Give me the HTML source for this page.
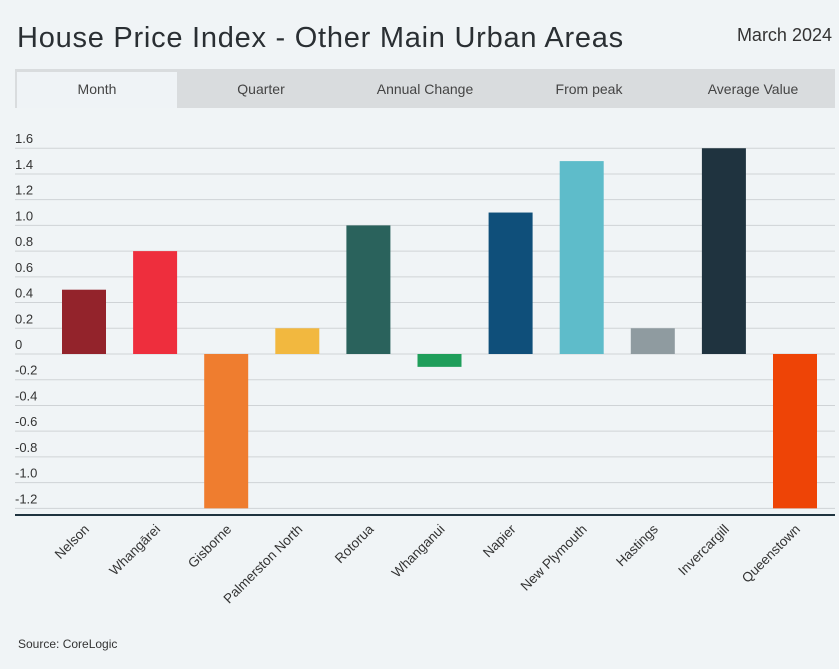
<!DOCTYPE html>
<html><head><meta charset="utf-8"><style>
body{margin:0;background:#f0f4f6;font-family:"Liberation Sans",sans-serif;}
#wrap{position:relative;width:839px;height:669px;overflow:hidden;background:#f0f4f6;}
.title{position:absolute;left:17px;top:22px;font-size:29px;letter-spacing:0.75px;color:#2a2f33;}
.date{position:absolute;right:7px;top:25px;font-size:18px;color:#333;}
.tabs{position:absolute;left:15px;top:69px;width:820px;height:39px;background:#d9dcde;}
.tab{position:absolute;top:0;height:39px;line-height:40px;text-align:center;font-size:14px;color:#444;width:164px;}
.tab.active{background:#eff3f6;top:3px;left:2px;width:160px;height:36px;line-height:34px;}
.src{position:absolute;left:18px;top:637px;font-size:12px;color:#333;}
</style></head><body>
<div id="wrap">
<div class="title">House Price Index - Other Main Urban Areas</div>
<div class="date">March 2024</div>
<div class="tabs">
<div class="tab active">Month</div>
<div class="tab" style="left:164px">Quarter</div>
<div class="tab" style="left:328px">Annual Change</div>
<div class="tab" style="left:492px">From peak</div>
<div class="tab" style="left:656px">Average Value</div>
</div>
<svg id="chart" width="839" height="669" style="position:absolute;left:0;top:0"></svg>
<div class="src">Source: CoreLogic</div>
</div>
<script>
const categories=["Nelson","Whangārei","Gisborne","Palmerston North","Rotorua","Whanganui","Napier","New Plymouth","Hastings","Invercargill","Queenstown"];
const values=[0.5,0.8,-1.2,0.2,1.0,-0.1,1.1,1.5,0.2,1.6,-1.2];
const colors=["#93232b","#ee2e3d","#ef7d2f","#f2b83f","#2a625c","#1f9e5a","#0f4f7a","#5ebcca","#8f9ba0","#1f333f","#ee4406"];
const ticks=[1.6,1.4,1.2,1.0,0.8,0.6,0.4,0.2,0,-0.2,-0.4,-0.6,-0.8,-1.0,-1.2];
const tickLabels=["1.6","1.4","1.2","1.0","0.8","0.6","0.4","0.2","0","-0.2","-0.4","-0.6","-0.8","-1.0","-1.2"];
const NS="http://www.w3.org/2000/svg";
const svg=document.getElementById('chart');
const y0=354,k=128.6,x0=84,step=71.1,bw=44;
const y=v=>y0-v*k;
const x=i=>x0+i*step;
function mk(t,a){const e=document.createElementNS(NS,t);for(const n in a)e.setAttribute(n,a[n]);svg.appendChild(e);return e;}
ticks.forEach((t,i)=>{
 const g=mk('line',{x1:15,x2:835,y1:y(t),y2:y(t),stroke:'#cfd3d6','stroke-width':1});
 
 
 const l=mk('text',{x:15,y:y(t)-5,'font-size':13,fill:'#333','font-family':'Liberation Sans, sans-serif'});
 l.textContent=tickLabels[i];
 
 
});
values.forEach((v,i)=>{
 const r=mk('rect',{x:x(i)-bw/2,y:Math.min(y(v),y(0)),width:bw,height:Math.abs(y(v)-y(0)),fill:colors[i]});
 
 
 const t=mk('text',{x:x(i)+6,y:530,'font-size':13.5,fill:'#333','text-anchor':'end','font-family':'Liberation Sans, sans-serif',transform:`rotate(-45 ${x(i)+6} 530)`});
 t.textContent=categories[i];
 
 
});
const ax=mk('line',{x1:15,x2:835,y1:515,y2:515,stroke:'#1f333f','stroke-width':2});


</script>
</body></html>
